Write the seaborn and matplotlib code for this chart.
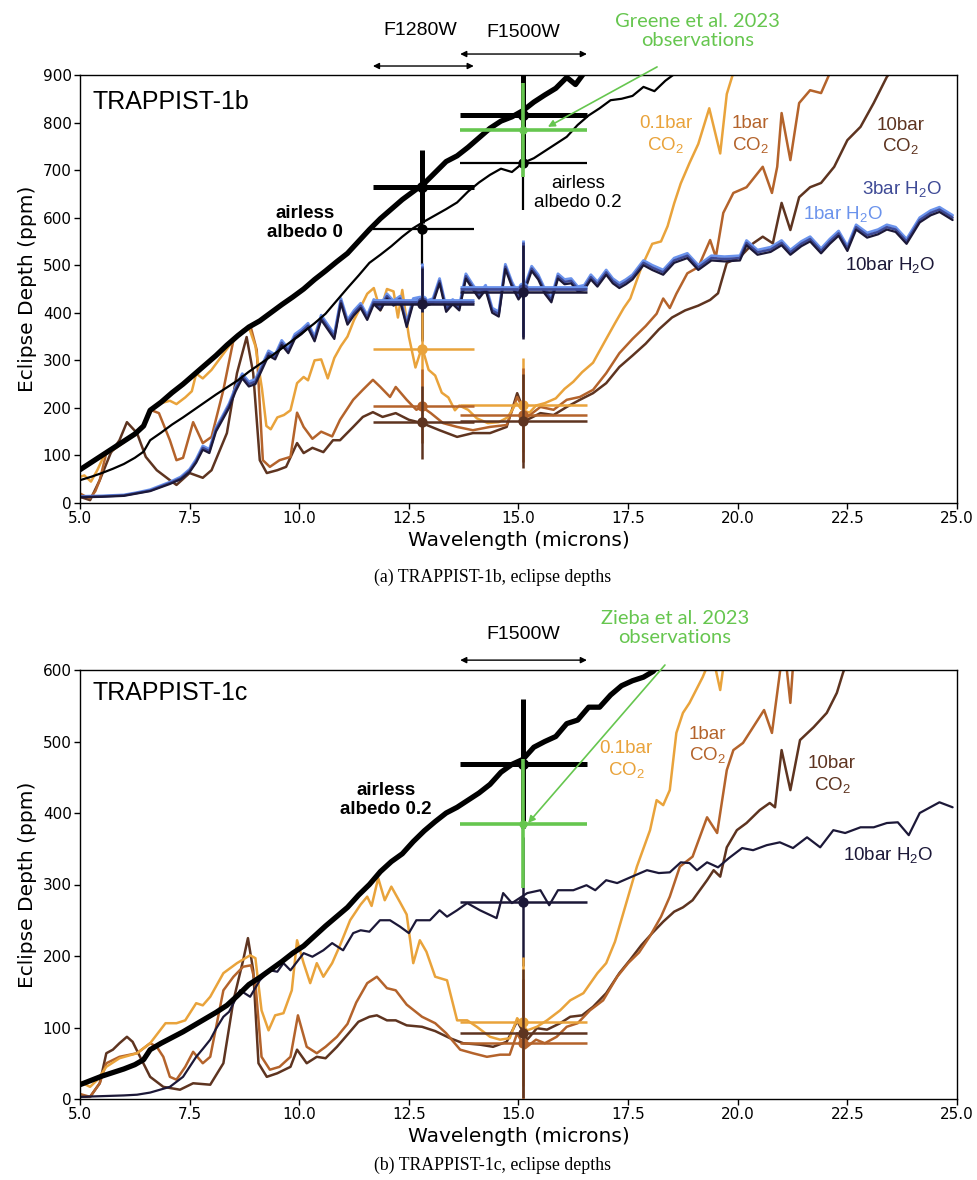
import matplotlib
matplotlib.use("Agg")
import matplotlib.pyplot as plt
import seaborn as sns
import pandas as pd

sns.set_theme(style="ticks")
plt.rcParams.update({
    "font.family": ["DejaVu Sans"],
    "text.color": "black",
    "axes.labelcolor": "black",
    "axes.edgecolor": "black",
    "axes.linewidth": 1.0,
    "xtick.color": "black",
    "ytick.color": "black",
    "xtick.labelcolor": "black",
    "ytick.labelcolor": "black",
    "xtick.labelsize": 11,
    "ytick.labelsize": 11,
    "axes.labelsize": 14.5,
    "xtick.direction": "out",
    "ytick.direction": "out",
    "mathtext.fontset": "custom",
    "mathtext.rm": "Liberation Sans",
    "mathtext.it": "Liberation Sans:italic",
    "mathtext.bf": "Liberation Sans:bold",
})

# ---------------- colours ----------------
C_CO2_01 = "#E9A33B"
C_CO2_1 = "#B4632B"
C_CO2_10 = "#5E3420"
C_H2O_1 = "#6B93EC"
C_H2O_3 = "#3E4A96"
C_H2O_10 = "#1C1838"
C_OBS = "#66C64F"
LABEL_FONT = "Liberation Sans"

# ================= TRAPPIST-1b spectra (ppm) =================
wl_airless_b = [5.0, 5.25, 5.5, 5.75, 6.0, 6.25, 6.45, 6.6, 6.85, 7.1, 7.35, 7.6, 7.85, 8.1, 8.35,
                8.6, 8.85, 9.1, 9.35, 9.6, 9.85, 10.1, 10.35, 10.6, 10.85, 11.1, 11.35, 11.6, 11.85,
                12.1, 12.35, 12.6, 12.85, 13.1, 13.35, 13.6, 13.85, 14.1, 14.35, 14.6, 14.85, 15.1,
                15.35, 15.6, 15.85, 16.1, 16.3, 16.5, 16.75, 17.0]
airless_a0_b = [70, 85, 100, 115, 130, 145, 162, 195, 212, 232, 250, 270, 290, 310, 332,
                352, 370, 383, 400, 417, 433, 450, 470, 488, 507, 525, 550, 575, 598,
                618, 638, 655, 672, 695, 718, 730, 748, 768, 788, 803, 812, 825,
                843, 858, 872, 895, 880, 905, 925, 950]

wl_airless02_b = [5.0, 5.25, 5.5, 5.75, 6.0, 6.25, 6.45, 6.6, 6.85, 7.1, 7.35, 7.6, 7.85, 8.1, 8.35,
                  8.6, 8.85, 9.1, 9.35, 9.6, 9.85, 10.1, 10.35, 10.6, 10.85, 11.1, 11.35, 11.6, 11.85,
                  12.1, 12.35, 12.6, 12.85, 13.1, 13.35, 13.6, 13.85, 14.1, 14.35, 14.6, 14.85, 15.1,
                  15.35, 15.6, 15.85, 16.1, 16.35, 16.6, 16.85, 17.1, 17.35, 17.6, 17.85, 18.1, 18.35,
                  18.6, 18.85]
airless_a02_b = [48, 55, 63, 72, 82, 95, 108, 132, 148, 165, 180, 196, 212, 228, 243,
                 258, 276, 292, 308, 325, 342, 360, 378, 398, 425, 452, 478, 505, 522,
                 540, 560, 578, 592, 605, 618, 632, 655, 674, 690, 703, 696, 715,
                 725, 740, 755, 770, 795, 815, 830, 847, 850, 856, 875, 866, 888,
                 905, 925]

wl_h2o_b = [5.0, 5.5, 6.0, 6.3, 6.6, 7.05, 7.3, 7.5, 7.65, 7.8,
            7.95, 8.1, 8.25, 8.4, 8.55, 8.7, 8.85, 9.0, 9.15, 9.3,
            9.45, 9.6, 9.75, 9.9, 10.05, 10.2, 10.35, 10.5, 10.65, 10.8,
            10.95, 11.1, 11.25, 11.4, 11.55, 11.7, 11.85, 12.0, 12.15, 12.3,
            12.45, 12.6, 12.75, 12.9, 13.05, 13.2, 13.35, 13.5, 13.65, 13.8,
            13.95, 14.1, 14.25, 14.4, 14.55, 14.7, 14.85, 15.0, 15.15, 15.3,
            15.45, 15.6, 15.75, 15.9, 16.05, 16.2, 16.35, 16.5, 16.65, 16.8,
            17.0, 17.15, 17.3, 17.45, 17.6, 17.85, 18.05, 18.3, 18.55, 18.85,
            19.1, 19.4, 19.7, 20.05, 20.2, 20.45, 20.75, 21.0, 21.2, 21.45,
            21.65, 21.9, 22.1, 22.3, 22.5, 22.7, 22.95, 23.2, 23.4, 23.6,
            23.85, 24.15, 24.4, 24.6, 24.9]
h2o_10bar_b = [12, 13, 15, 20, 25, 40, 50, 65, 85, 112,
               105, 150, 175, 200, 235, 262, 245, 250, 280, 310,
               302, 332, 315, 345, 355, 368, 340, 385, 365, 345,
               420, 375, 395, 410, 385, 418, 405, 430, 415, 425,
               370, 420, 423, 415, 420, 462, 402, 418, 405, 472,
               450, 430, 448, 400, 392, 492, 455, 428, 448, 488,
               470, 440, 422, 472, 460, 462, 445, 448, 470, 455,
               480, 462, 452, 460, 470, 500, 490, 480, 505, 515,
               490, 510, 508, 510, 542, 522, 528, 542, 522, 540,
               550, 525, 545, 562, 530, 575, 558, 565, 575, 570,
               545, 590, 605, 612, 595]
h2o_3bar_b = [13, 14, 16, 21, 26, 42, 52, 68, 88, 116,
              109, 154, 179, 205, 240, 267, 250, 255, 285, 315,
              307, 337, 320, 350, 360, 373, 345, 390, 370, 350,
              425, 380, 400, 415, 390, 423, 410, 435, 420, 430,
              375, 425, 428, 420, 425, 467, 407, 423, 410, 477,
              455, 435, 453, 405, 397, 497, 460, 433, 453, 493,
              475, 445, 427, 477, 465, 467, 450, 453, 475, 460,
              485, 467, 457, 465, 475, 505, 495, 485, 510, 520,
              495, 515, 513, 515, 547, 527, 533, 547, 527, 545,
              555, 530, 550, 567, 535, 580, 563, 570, 580, 575,
              550, 595, 610, 617, 600]
h2o_1bar_b = [14, 15, 17, 22, 28, 44, 55, 71, 92, 120,
              113, 158, 183, 209, 244, 272, 255, 260, 290, 320,
              312, 342, 325, 355, 365, 378, 350, 395, 375, 355,
              430, 385, 405, 420, 395, 428, 415, 440, 425, 435,
              380, 430, 433, 425, 430, 472, 412, 428, 415, 482,
              460, 440, 458, 410, 402, 502, 465, 438, 458, 498,
              480, 450, 432, 482, 470, 472, 455, 458, 480, 465,
              490, 472, 462, 470, 480, 510, 500, 490, 515, 525,
              500, 520, 518, 520, 552, 532, 538, 552, 532, 550,
              560, 535, 555, 572, 540, 585, 568, 575, 585, 580,
              555, 600, 615, 622, 605]

wl_co2_01_b = [5.0, 5.1, 5.25, 5.4, 5.55, 5.75, 6.0, 6.25, 6.45, 6.6, 6.85, 7.05, 7.2, 7.4, 7.55,
               7.65, 7.8, 8.0, 8.2, 8.4, 8.6, 8.85, 9.0, 9.15, 9.25, 9.35, 9.5, 9.65, 9.8, 9.95,
               10.1, 10.2, 10.35, 10.5, 10.65, 10.8, 10.95, 11.1, 11.25, 11.4, 11.55, 11.7, 11.85,
               12.0, 12.15, 12.25, 12.35, 12.5, 12.65, 12.8, 12.95, 13.1, 13.25, 13.4, 13.55,
               13.65, 13.85, 14.05, 14.3, 14.55, 14.75, 14.95, 15.1, 15.25, 15.4, 15.6, 15.85,
               16.05, 16.25, 16.45, 16.7, 16.85, 17.0, 17.2, 17.4, 17.55, 17.8, 18.05, 18.25,
               18.4, 18.55, 18.7, 18.9, 19.1, 19.35, 19.6, 19.75, 19.9]
co2_01bar_b = [55, 58, 45, 70, 100, 112, 128, 145, 160, 195, 210, 215, 208, 222, 235,
               272, 262, 280, 305, 330, 350, 370, 330, 240, 162, 155, 180, 185, 195, 252,
               265, 258, 300, 302, 262, 305, 330, 350, 385, 412, 440, 452, 405,
               450, 445, 390, 448, 350, 285, 328, 280, 268, 232, 222, 195,
               205, 196, 178, 168, 170, 180, 210, 195, 190, 205, 210, 220,
               240, 255, 275, 295, 320, 345, 378, 410, 430, 495, 545, 550,
               582, 630, 672, 715, 755, 830, 735, 860, 905]

wl_co2_1_b = [5.0, 5.1, 5.23, 5.35, 5.45, 5.6, 5.75, 6.0, 6.25, 6.45, 6.6, 6.8, 7.05, 7.2, 7.35,
              7.58, 7.8, 8.0, 8.27, 8.5, 8.72, 8.9, 9.03, 9.17, 9.33, 9.55, 9.8, 9.95, 10.1, 10.3,
              10.5, 10.75, 10.93, 11.23, 11.45, 11.68, 11.85, 12.07, 12.2, 12.45, 12.67, 12.8,
              13.0, 13.28, 13.6, 13.96, 14.35, 14.73, 14.97, 15.2, 15.5, 15.8, 16.1, 16.4, 16.7,
              17.0, 17.3, 17.6, 17.9, 18.15, 18.3, 18.45, 18.6, 18.85, 19.1, 19.37, 19.5, 19.67,
              19.9, 20.2, 20.57, 20.78, 20.9, 21.0, 21.2, 21.4, 21.65, 21.9, 22.1]
co2_1bar_b = [20, 15, 10, 25, 48, 105, 111, 128, 145, 165, 196, 189, 132, 90, 95,
              170, 126, 139, 238, 343, 364, 368, 322, 90, 76, 90, 97, 190, 160, 135,
              150, 140, 175, 217, 238, 259, 244, 223, 244, 217, 196, 202,
              189, 168, 160, 153, 160, 164, 223, 181, 202, 196, 217, 223, 238,
              273, 315, 345, 372, 398, 430, 410, 440, 483, 496, 553, 517, 610,
              652, 664, 707, 652, 707, 820, 721, 841, 868, 862, 904]

wl_co2_10_b = [5.0, 5.23, 5.45, 5.7, 5.9, 6.07, 6.3, 6.5, 6.75, 7.05, 7.2, 7.5, 7.8, 8.0, 8.35,
               8.58, 8.8, 8.95, 9.1, 9.26, 9.5, 9.7, 9.95, 10.1, 10.3, 10.55, 10.77, 10.93, 11.23,
               11.45, 11.68, 11.9, 12.2, 12.5, 12.8, 13.2, 13.6, 13.96, 14.35, 14.73, 14.97, 15.2,
               15.5, 15.8, 16.1, 16.4, 16.7, 17.0, 17.3, 17.6, 17.9, 18.2, 18.5, 18.8, 19.1,
               19.37, 19.55, 19.75, 20.05, 20.35, 20.57, 20.8, 21.0, 21.2, 21.4, 21.65, 21.9,
               22.2, 22.5, 22.8, 23.1, 23.4, 23.6]
co2_10bar_b = [13, 6, 48, 105, 132, 170, 147, 97, 69, 48, 38, 63, 53, 69, 147,
               273, 349, 273, 90, 63, 69, 76, 126, 105, 116, 107, 132, 132, 160,
               181, 191, 181, 189, 175, 168, 153, 139, 147, 147, 160, 231, 175,
               189, 185, 202, 217, 231, 252, 286, 310, 335, 365, 390, 405, 415,
               427, 441, 505, 517, 546, 560, 546, 631, 574, 643, 664, 673,
               707, 763, 791, 841, 896, 920]

# synthetic photometry, TRAPPIST-1b (ppm)
f1280_models_b = [665, 577, 427, 422, 418, 324, 204, 170]
f1500_models_b = [815, 715, 454, 449, 444, 206, 185, 172]
model_err_f1280_b = 77
model_err_f1500_b = 99
obs_b = 784
obs_err_b = 99

# ================= TRAPPIST-1c spectra (ppm) =================
wl_airless_c = [5.0, 5.25, 5.5, 5.75, 6.0, 6.25, 6.45, 6.6, 6.85, 7.1, 7.35, 7.6, 7.85, 8.1, 8.35,
                8.6, 8.85, 9.1, 9.35, 9.6, 9.85, 10.1, 10.35, 10.6, 10.85, 11.1, 11.35, 11.6, 11.85,
                12.1, 12.35, 12.6, 12.85, 13.1, 13.35, 13.6, 13.85, 14.1, 14.35, 14.6, 14.85, 15.1,
                15.35, 15.6, 15.85, 16.1, 16.35, 16.6, 16.85, 17.1, 17.35, 17.6, 17.85, 18.07, 18.3]
airless_a02_c = [20, 26, 32, 37, 42, 48, 55, 69, 78, 86, 94, 103, 112, 121, 131,
                 145, 160, 170, 181, 192, 204, 214, 228, 242, 255, 268, 285, 300, 318,
                 332, 343, 360, 375, 388, 400, 408, 418, 428, 440, 457, 468, 475,
                 492, 500, 507, 525, 530, 548, 548, 565, 578, 585, 590, 598, 615]

wl_h2o_c = [5.0, 5.5, 6.0, 6.3, 6.6, 7.05, 7.35, 7.65, 7.8, 7.97, 8.1, 8.27, 8.4, 8.5, 8.65,
            8.88, 9.1, 9.33, 9.5, 9.64, 9.8, 10.1, 10.3, 10.55, 10.75, 11.0, 11.23, 11.4, 11.6,
            11.84, 12.07, 12.3, 12.5, 12.67, 12.98, 13.2, 13.37, 13.6, 13.83, 14.12, 14.5, 14.65,
            14.85, 15.2, 15.5, 15.7, 15.9, 16.25, 16.55, 16.75, 17.0, 17.25, 17.55, 17.93, 18.2,
            18.45, 18.7, 18.9, 19.07, 19.3, 19.55, 19.8, 20.1, 20.35, 20.66, 20.96, 21.26, 21.58,
            21.88, 22.18, 22.45, 22.8, 23.1, 23.4, 23.65, 23.9, 24.15, 24.6, 24.9]
h2o_10bar_c = [3, 4, 5, 6, 9, 17, 31, 59, 70, 83, 98, 115, 122, 134, 152,
               143, 166, 180, 178, 190, 180, 204, 199, 208, 218, 208, 232, 236, 234,
               250, 250, 241, 232, 250, 250, 264, 255, 264, 274, 264, 253, 288,
               274, 288, 292, 271, 292, 292, 299, 292, 306, 302, 310, 320, 316,
               317, 331, 330, 320, 331, 324, 337, 351, 348, 355, 359, 351, 366,
               352, 376, 372, 380, 380, 386, 387, 369, 400, 415, 408]

wl_co2_01_c = [5.0, 5.23, 5.4, 5.6, 5.9, 6.3, 6.6, 6.8, 6.95, 7.2, 7.4, 7.65, 7.8, 7.97, 8.27,
               8.58, 8.88, 9.0, 9.14, 9.3, 9.45, 9.64, 9.83, 9.95, 10.1, 10.25, 10.4, 10.55, 10.75,
               10.93, 11.16, 11.4, 11.55, 11.65, 11.8, 11.95, 12.1, 12.3, 12.45, 12.6, 12.75, 12.9,
               13.1, 13.37, 13.6, 13.83, 14.05, 14.35, 14.58, 14.8, 14.97, 15.2, 15.42, 15.65,
               15.95, 16.18, 16.48, 16.8, 17.0, 17.2, 17.4, 17.7, 18.0, 18.15, 18.3, 18.45, 18.6,
               18.75, 18.9, 19.2, 19.37, 19.5, 19.6, 19.75]
co2_01bar_c = [24, 17, 27, 45, 57, 64, 78, 94, 106, 106, 110, 134, 131, 143, 176,
               190, 201, 197, 124, 96, 117, 120, 152, 222, 190, 162, 190, 171, 190,
               215, 250, 272, 283, 270, 309, 278, 297, 275, 258, 190, 222, 206,
               171, 166, 110, 110, 101, 87, 83, 85, 113, 96, 101, 110,
               124, 138, 148, 176, 190, 220, 262, 325, 376, 418, 411, 432, 512,
               540, 554, 590, 615, 600, 572, 640]

wl_co2_1_c = [5.0, 5.23, 5.45, 5.6, 5.9, 6.3, 6.6, 6.75, 6.9, 7.05, 7.2, 7.4, 7.58, 7.8, 7.97,
              8.27, 8.5, 8.72, 8.9, 9.0, 9.14, 9.33, 9.55, 9.8, 9.97, 10.17, 10.4, 10.6, 10.86,
              11.1, 11.3, 11.55, 11.77, 12.0, 12.2, 12.45, 12.8, 13.1, 13.35, 13.67, 13.96, 14.28,
              14.58, 14.8, 14.97, 15.15, 15.4, 15.6, 15.87, 16.1, 16.35, 16.63, 16.93, 17.25, 17.5,
              17.75, 18.0, 18.25, 18.45, 18.68, 18.97, 19.3, 19.53, 19.75, 19.9, 20.12, 20.35,
              20.6, 20.78, 20.96, 21.05, 21.2, 21.3]
co2_1bar_c = [7, 3, 22, 50, 59, 64, 78, 73, 59, 31, 27, 45, 66, 50, 59,
              152, 171, 185, 187, 162, 59, 41, 45, 59, 117, 73, 64, 73, 87,
              105, 135, 162, 171, 155, 152, 132, 115, 106, 92, 69, 64, 59,
              62, 62, 92, 71, 83, 78, 87, 101, 106, 124, 138, 171, 190,
              205, 228, 255, 283, 325, 339, 394, 372, 460, 488, 498, 520,
              544, 512, 596, 640, 554, 640]

wl_co2_10_c = [5.0, 5.23, 5.45, 5.6, 5.75, 5.9, 6.07, 6.2, 6.37, 6.6, 6.9, 7.28, 7.58, 7.97, 8.27,
               8.5, 8.72, 8.83, 8.95, 9.07, 9.26, 9.5, 9.8, 9.95, 10.17, 10.4, 10.6, 10.86, 11.1,
               11.35, 11.6, 11.77, 12.0, 12.2, 12.45, 12.8, 13.1, 13.44, 13.74, 14.12, 14.42, 14.73,
               14.97, 15.2, 15.42, 15.65, 15.95, 16.18, 16.45, 16.7, 17.0, 17.3, 17.55, 17.8, 18.05,
               18.3, 18.55, 18.75, 18.97, 19.3, 19.45, 19.6, 19.75, 19.98, 20.2, 20.5, 20.73, 20.85,
               21.0, 21.2, 21.42, 21.73, 22.03, 22.26, 22.4, 22.6]
co2_10bar_c = [3, 3, 22, 64, 69, 78, 87, 80, 59, 31, 17, 13, 22, 20, 50,
               138, 194, 225, 180, 50, 31, 36, 45, 69, 50, 59, 57, 73, 90,
               108, 115, 117, 110, 110, 103, 101, 95, 85, 78, 76, 73, 80,
               109, 83, 99, 97, 106, 115, 117, 129, 148, 176, 195, 215, 232,
               248, 262, 268, 278, 306, 320, 311, 352, 376, 386, 404, 414, 408,
               488, 432, 502, 520, 540, 568, 596, 630]

# synthetic photometry, TRAPPIST-1c (ppm)
f1500_models_c = [469, 276, 108, 78, 92]
model_err_c = 90
obs_c = 385
obs_err_c = 90

# filter bands (microns)
F1280W_CENTER, F1280W_LO, F1280W_HI = 12.8, 11.68, 13.98
F1500W_CENTER, F1500W_LO, F1500W_HI = 15.1, 13.67, 16.56


def curve(ax, wl, ppm, color, lw, z):
    df = pd.DataFrame({"wl": wl, "ppm": ppm})
    sns.lineplot(data=df, x="wl", y="ppm", ax=ax, color=color, linewidth=lw,
                 estimator=None, sort=False, zorder=z)


def phot(ax, center, lo, hi, value, err, color, lw, ms, z):
    ax.errorbar([center], [value], xerr=[[center - lo], [hi - center]], yerr=[[err], [err]],
                fmt="o", color=color, ecolor=color, elinewidth=lw, ms=ms, capsize=0,
                zorder=z, markeredgewidth=0)


def band_arrow(ax, lo, hi, yfrac):
    ax.annotate("", xy=(hi, yfrac), xytext=(lo, yfrac), xycoords=("data", "axes fraction"),
                arrowprops=dict(arrowstyle="<|-|>", color="black", lw=1.0, mutation_scale=9,
                                shrinkA=0, shrinkB=0), annotation_clip=False)


def label(ax, x, y, s, color, size=13.5, weight="normal", ha="center"):
    ax.text(x, y, s, color=color, fontsize=size, fontweight=weight, ha=ha, va="center",
            family=LABEL_FONT, linespacing=1.15, zorder=10)


def style_axis(ax, ymax):
    ax.set_xlim(5, 25)
    ax.set_ylim(0, ymax)
    ax.set_xticks([5.0, 7.5, 10.0, 12.5, 15.0, 17.5, 20.0, 22.5, 25.0])
    ax.set_xticklabels(["5.0", "7.5", "10.0", "12.5", "15.0", "17.5", "20.0", "22.5", "25.0"])
    ax.set_yticks(range(0, ymax + 1, 100))
    ax.set_xlabel("Wavelength (microns)", labelpad=3, color="black")
    ax.set_ylabel("Eclipse Depth (ppm)", labelpad=4, color="black")
    ax.tick_params(length=4, width=1, pad=2, colors="black", labelcolor="black")
    for sp in ax.spines.values():
        sp.set_visible(True)
        sp.set_color("black")


fig = plt.figure(figsize=(9.78, 11.8), dpi=100)
ax1 = fig.add_axes([80 / 978, 1 - 503 / 1180, 877 / 978, 428 / 1180])
ax2 = fig.add_axes([80 / 978, 1 - 1099 / 1180, 877 / 978, 429 / 1180])

# ---------------- TRAPPIST-1b ----------------
curve(ax1, wl_co2_10_b, co2_10bar_b, C_CO2_10, 1.8, 2)
curve(ax1, wl_co2_1_b, co2_1bar_b, C_CO2_1, 1.8, 2.1)
curve(ax1, wl_co2_01_b, co2_01bar_b, C_CO2_01, 1.8, 2.2)
curve(ax1, wl_h2o_b, h2o_1bar_b, C_H2O_1, 2.0, 2.3)
curve(ax1, wl_h2o_b, h2o_3bar_b, C_H2O_3, 1.8, 2.4)
curve(ax1, wl_h2o_b, h2o_10bar_b, C_H2O_10, 1.6, 2.5)
curve(ax1, wl_airless02_b, airless_a02_b, "black", 1.6, 2.6)
curve(ax1, wl_airless_b, airless_a0_b, "black", 3.8, 2.7)

model_styles_b = [("black", 3.6, 8), ("black", 1.6, 7.5), (C_H2O_1, 2.0, 7.5), (C_H2O_3, 2.0, 7.5),
                  (C_H2O_10, 1.8, 7.5), (C_CO2_01, 1.8, 7.5), (C_CO2_1, 1.8, 7.5), (C_CO2_10, 1.8, 7.5)]
for i, ((col, lw, ms), v) in enumerate(zip(model_styles_b, f1280_models_b)):
    phot(ax1, F1280W_CENTER, F1280W_LO, F1280W_HI, v, model_err_f1280_b, col, lw, ms, 3 + i * 0.1)
for i, ((col, lw, ms), v) in enumerate(zip(model_styles_b, f1500_models_b)):
    phot(ax1, F1500W_CENTER, F1500W_LO, F1500W_HI, v, model_err_f1500_b, col, lw, ms, 3 + i * 0.1)
phot(ax1, F1500W_CENTER, F1500W_LO, F1500W_HI, obs_b, obs_err_b, C_OBS, 2.6, 6, 5)

style_axis(ax1, 900)
ax1.text(0.0137, 0.937, "TRAPPIST-1b", transform=ax1.transAxes, fontsize=18, family=LABEL_FONT,
         ha="left", va="center")
band_arrow(ax1, F1280W_LO, F1280W_HI, 1.021)
band_arrow(ax1, F1500W_LO, F1500W_HI, 1.049)
ax1.text(12.75, 1.105, "F1280W", transform=ax1.get_xaxis_transform(), fontsize=14,
         family=LABEL_FONT, ha="center", va="center")
ax1.text(15.1, 1.10, "F1500W", transform=ax1.get_xaxis_transform(), fontsize=14,
         family=LABEL_FONT, ha="center", va="center")
ax1.text(19.09, 1.103, "Greene et al. 2023\nobservations", transform=ax1.get_xaxis_transform(),
         fontsize=14.5, family="Lato", color=C_OBS, ha="center", va="center", linespacing=1.2)
ax1.annotate("", xy=(15.67, 791), xytext=(18.16, 917),
             arrowprops=dict(arrowstyle="-|>", color=C_OBS, lw=1.2, mutation_scale=10,
                             shrinkA=0, shrinkB=0), annotation_clip=False)

label(ax1, 10.13, 589, "airless\nalbedo 0", "black", weight="bold")
label(ax1, 16.35, 652, "airless\nalbedo 0.2", "black")
label(ax1, 18.36, 774, "0.1bar\nCO$_2$", C_CO2_01)
label(ax1, 20.28, 774, "1bar\nCO$_2$", C_CO2_1)
label(ax1, 23.72, 770, "10bar\nCO$_2$", C_CO2_10)
label(ax1, 23.75, 660, "3bar H$_2$O", C_H2O_3)
label(ax1, 22.39, 607, "1bar H$_2$O", C_H2O_1)
label(ax1, 23.47, 500, "10bar H$_2$O", C_H2O_10)

# ---------------- TRAPPIST-1c ----------------
curve(ax2, wl_co2_10_c, co2_10bar_c, C_CO2_10, 1.8, 2)
curve(ax2, wl_co2_1_c, co2_1bar_c, C_CO2_1, 1.8, 2.1)
curve(ax2, wl_co2_01_c, co2_01bar_c, C_CO2_01, 1.8, 2.2)
curve(ax2, wl_h2o_c, h2o_10bar_c, C_H2O_10, 1.6, 2.5)
curve(ax2, wl_airless_c, airless_a02_c, "black", 3.8, 2.7)

model_styles_c = [("black", 3.6, 8), (C_H2O_10, 1.8, 7.5), (C_CO2_01, 1.8, 7.5),
                  (C_CO2_1, 1.8, 7.5), (C_CO2_10, 1.8, 7.5)]
for i, ((col, lw, ms), v) in enumerate(zip(model_styles_c, f1500_models_c)):
    phot(ax2, F1500W_CENTER, F1500W_LO, F1500W_HI, v, model_err_c, col, lw, ms, 3 + i * 0.1)
phot(ax2, F1500W_CENTER, F1500W_LO, F1500W_HI, obs_c, obs_err_c, C_OBS, 2.6, 6, 5)

style_axis(ax2, 600)
ax2.text(0.0137, 0.946, "TRAPPIST-1c", transform=ax2.transAxes, fontsize=18, family=LABEL_FONT,
         ha="left", va="center")
band_arrow(ax2, F1500W_LO, F1500W_HI, 1.023)
ax2.text(15.1, 1.082, "F1500W", transform=ax2.get_xaxis_transform(), fontsize=14,
         family=LABEL_FONT, ha="center", va="center")
ax2.text(18.57, 1.098, "Zieba et al. 2023\nobservations", transform=ax2.get_xaxis_transform(),
         fontsize=14.5, family="Lato", color=C_OBS, ha="center", va="center", linespacing=1.2)
ax2.annotate("", xy=(15.22, 386), xytext=(18.34, 607),
             arrowprops=dict(arrowstyle="-|>", color=C_OBS, lw=1.2, mutation_scale=10,
                             shrinkA=0, shrinkB=0), annotation_clip=False)

label(ax2, 11.98, 418, "airless\nalbedo 0.2", "black", weight="bold")
label(ax2, 17.46, 474, "0.1bar\nCO$_2$", C_CO2_01)
label(ax2, 19.3, 494, "1bar\nCO$_2$", C_CO2_1)
label(ax2, 22.15, 453, "10bar\nCO$_2$", C_CO2_10)
label(ax2, 23.43, 341, "10bar H$_2$O", C_H2O_10)

# captions
fig.text(493 / 978, 1 - 577 / 1180, "(a) TRAPPIST-1b, eclipse depths", ha="center", va="center",
         family="Liberation Serif", fontsize=12.8, color="black")
fig.text(493 / 978, 1 - 1165 / 1180, "(b) TRAPPIST-1c, eclipse depths", ha="center", va="center",
         family="Liberation Serif", fontsize=12.8, color="black")

fig.savefig("out.png", dpi=100)
